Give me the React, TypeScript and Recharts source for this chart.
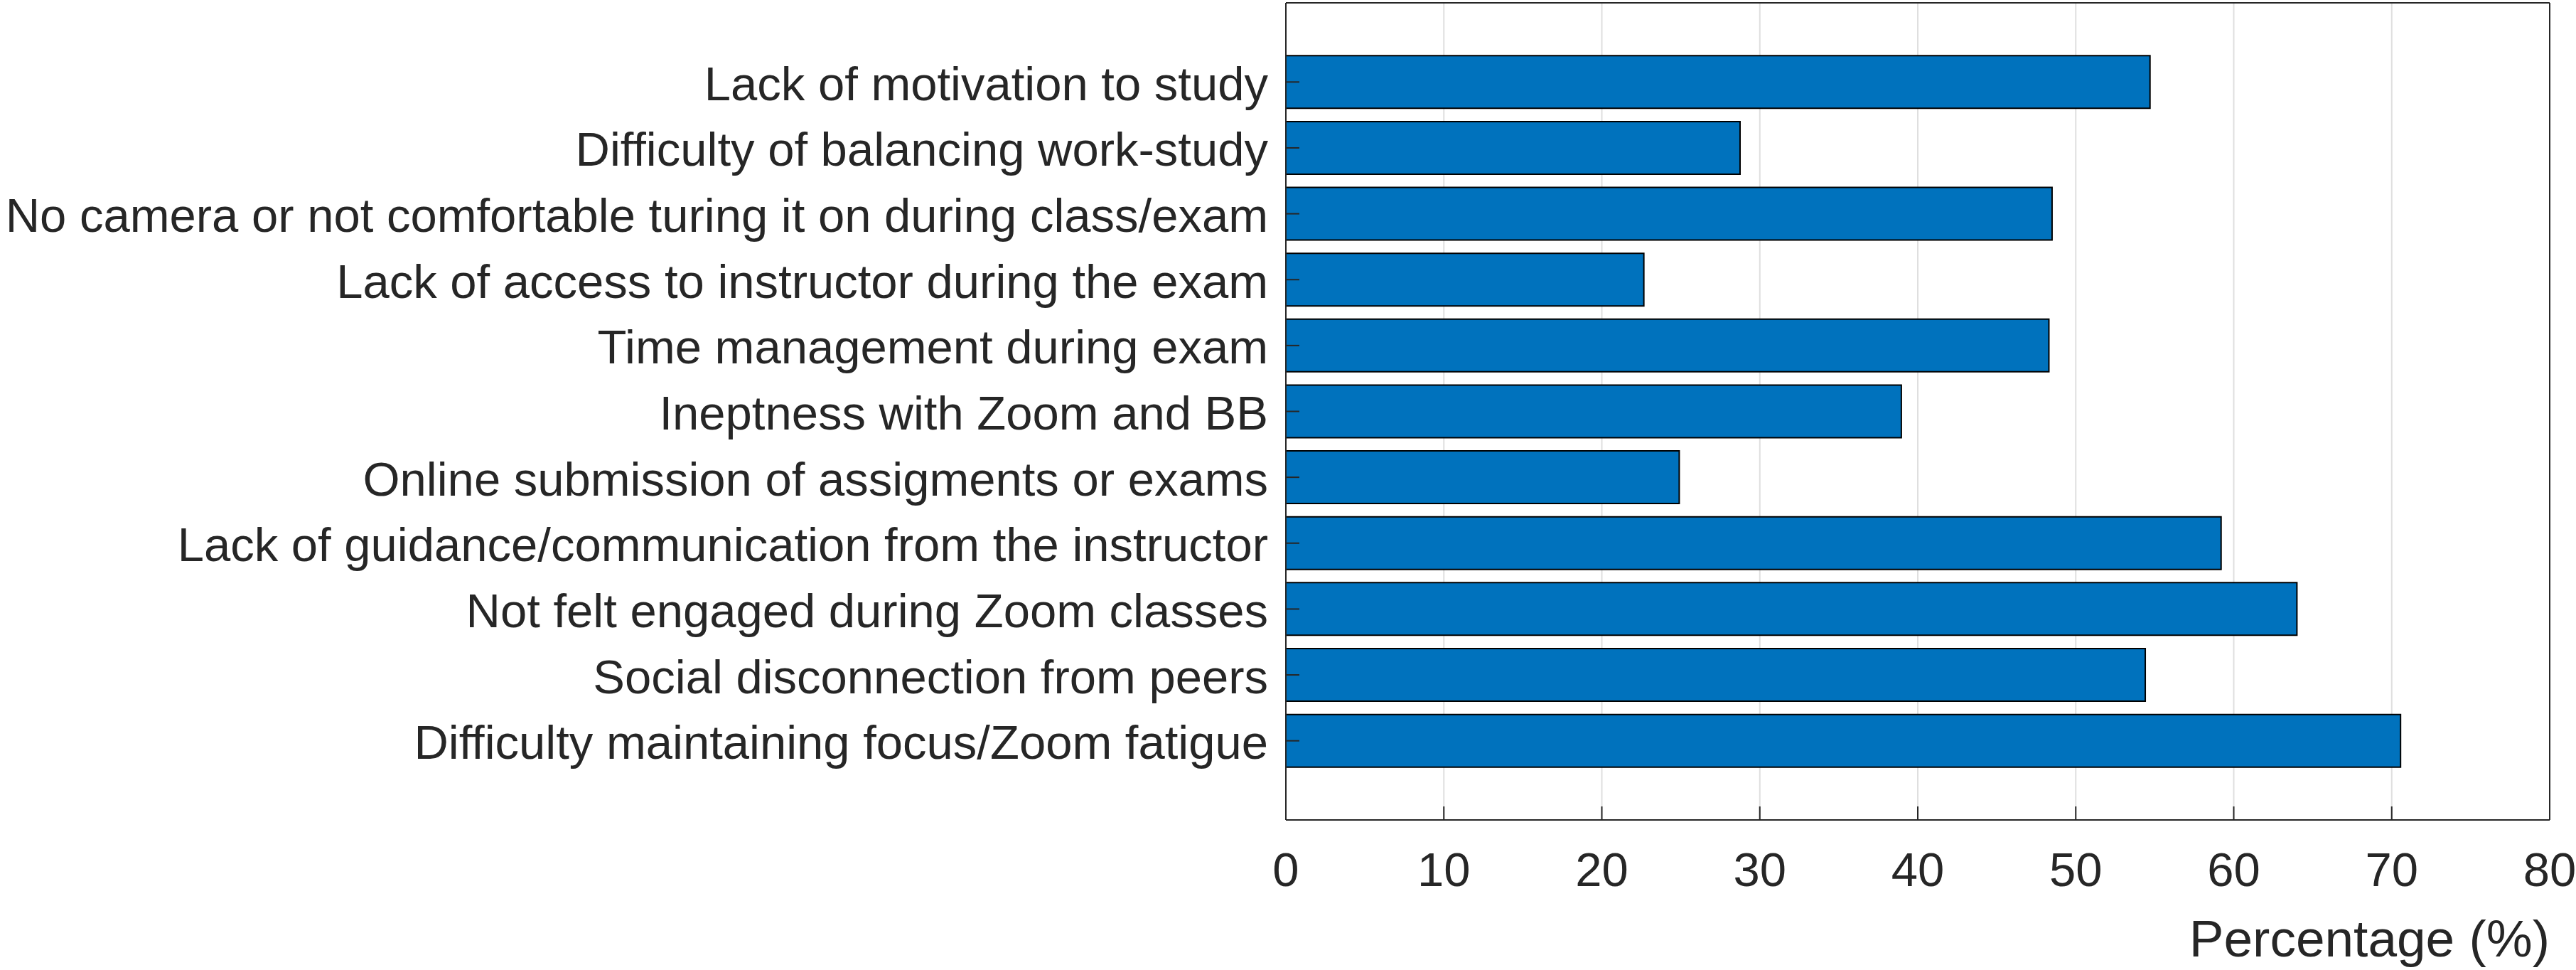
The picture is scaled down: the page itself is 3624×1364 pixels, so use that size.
import React from 'react';
import { BarChart, Bar, XAxis, YAxis, CartesianGrid } from 'recharts';

const categories = [
  'Lack of motivation to study',
  'Difficulty of balancing work-study',
  'No camera or not comfortable turing it on during class/exam',
  'Lack of access to instructor during the exam',
  'Time management during exam',
  'Ineptness with Zoom and BB',
  'Online submission of assigments or exams',
  'Lack of guidance/communication from the instructor',
  'Not felt engaged during Zoom classes',
  'Social disconnection from peers',
  'Difficulty maintaining focus/Zoom fatigue',
];
const percentages = [54.7, 28.75, 48.5, 22.66, 48.3, 38.96, 24.9, 59.2, 64.0, 54.4, 70.56];
const xTicks = [0, 10, 20, 30, 40, 50, 60, 70, 80];
const xLabel = 'Percentage (%)';

const data = categories.map((name, i) => ({ name, value: percentages[i] }));

const FONT = '"Liberation Sans", Arial, Helvetica, sans-serif';
const INK = '#262626';

const YTick = (props: any) => {
  const { x, y, payload } = props;
  return (
    <text x={x} y={y} dy="0.38em" textAnchor="end" fill={INK} fontSize={67} fontFamily={FONT}>
      {payload.value}
    </text>
  );
};

const XTick = (props: any) => {
  const { x, y, payload } = props;
  return (
    <text x={x} y={y} dy="0.71em" textAnchor="middle" fill={INK} fontSize={67} fontFamily={FONT}>
      {payload.value}
    </text>
  );
};

const XLabel = (props: any) => {
  const vb = props.viewBox || {};
  return (
    <text
      x={vb.x + vb.width}
      y={vb.y + 192}
      textAnchor="end"
      fill={INK}
      fontSize={73}
      fontFamily={FONT}
    >
      {xLabel}
    </text>
  );
};

const PAD = 65;

export default function App() {
  return (
    <div style={{ position: 'absolute', left: 0, top: 0, width: 3624, height: 1364, background: '#fff' }}>
      <BarChart
        width={3624}
        height={1364}
        data={data}
        layout="vertical"
        barCategoryGap="10%"
        margin={{ top: 3, right: 36, bottom: 0, left: 0 }}
      >
        <CartesianGrid horizontal={false} stroke="#dfdfdf" strokeWidth={2} />
        <Bar dataKey="value" fill="#0072BD" stroke="#000" strokeWidth={2} isAnimationActive={false} />
        <XAxis
          type="number"
          dataKey="value"
          domain={[0, 80]}
          ticks={xTicks}
          allowDataOverflow
          interval={0}
          height={211}
          tickSize={-19}
          tickMargin={64}
          tick={<XTick />}
          axisLine={{ stroke: INK, strokeWidth: 2 }}
          tickLine={{ stroke: INK, strokeWidth: 2 }}
          label={<XLabel />}
        />
        <XAxis
          xAxisId="t"
          orientation="top"
          type="number"
          dataKey="value"
          domain={[0, 80]}
          ticks={xTicks}
          allowDataOverflow
          interval={0}
          height={1}
          tickSize={-19}
          tick={false}
          axisLine={{ stroke: INK, strokeWidth: 2 }}
          tickLine={{ stroke: INK, strokeWidth: 2 }}
        />
        <YAxis
          type="category"
          dataKey="name"
          width={1809}
          interval={0}
          padding={{ top: PAD, bottom: PAD }}
          tickSize={-19}
          tickMargin={44}
          tick={<YTick />}
          axisLine={{ stroke: INK, strokeWidth: 2 }}
          tickLine={{ stroke: INK, strokeWidth: 2 }}
        />
        <YAxis
          yAxisId="r"
          orientation="right"
          type="category"
          dataKey="name"
          width={1}
          interval={0}
          padding={{ top: PAD, bottom: PAD }}
          tickSize={-19}
          tick={false}
          axisLine={{ stroke: INK, strokeWidth: 2 }}
          tickLine={{ stroke: INK, strokeWidth: 2 }}
        />
      </BarChart>
    </div>
  );
}
